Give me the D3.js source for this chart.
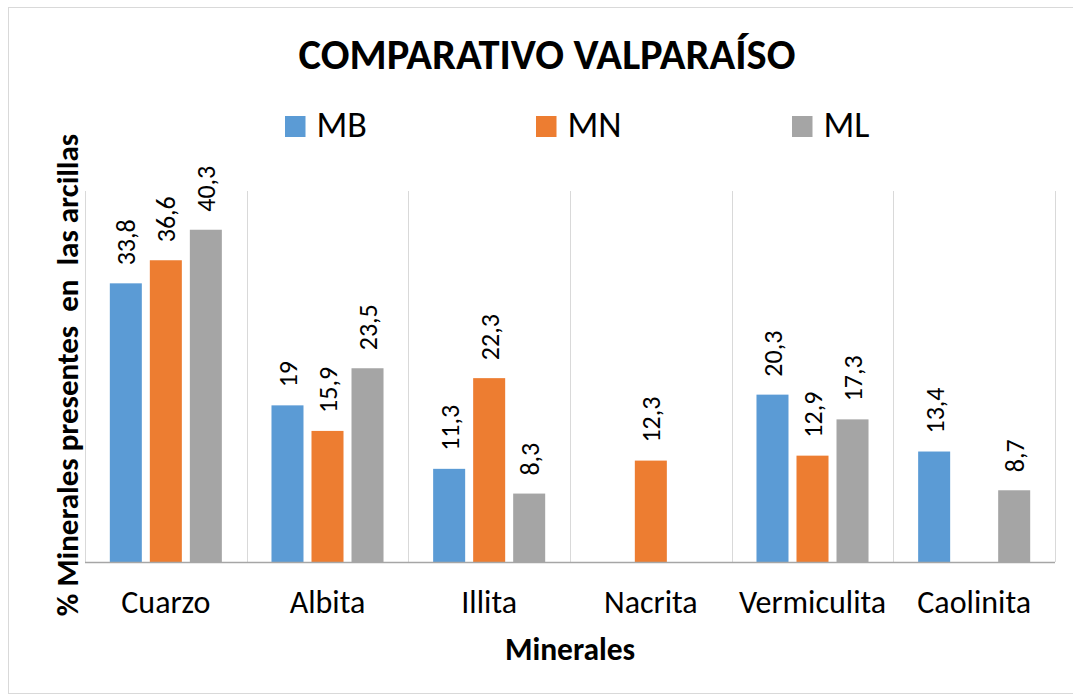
<!DOCTYPE html>
<html>
<head>
<meta charset="utf-8">
<script src="https://cdn.jsdelivr.net/npm/d3@7"></script>
<style>
  html, body { margin: 0; padding: 0; background: #fff; }
  svg { display: block; }
  text { font-family: Carlito, Calibri, Lato, sans-serif; fill: #000; }
</style>
</head>
<body>
<svg id="chart" width="1073" height="695"></svg>
<script>
const categories = ["Cuarzo", "Albita", "Illita", "Nacrita", "Vermiculita", "Caolinita"];
const seriesNames = ["MB", "MN", "ML"];
const MB = [33.8, 19, 11.3, null, 20.3, 13.4];
const MN = [36.6, 15.9, 22.3, 12.3, 12.9, null];
const ML = [40.3, 23.5, 8.3, null, 17.3, 8.7];
const colors = ["#5B9BD5", "#ED7D31", "#A5A5A5"];
const titleText = "COMPARATIVO VALPARAÍSO";
const xTitle = "Minerales";
const yTitle = "% Minerales presentes  en  las arcillas";
const yMax = 45;

const seriesValues = [MB, MN, ML];
const svg = d3.select("#chart");

const plot = { left: 85, right: 1055, top: 191, bottom: 562 };

// outer border
svg.append("rect")
  .attr("x", 8.5).attr("y", 7.5).attr("width", 1100).attr("height", 686)
  .attr("fill", "#fff").attr("stroke", "#D9D9D9").attr("stroke-width", 1);

const x = d3.scaleBand().domain(categories).range([plot.left, plot.right]).padding(0);
const inner = x.bandwidth();
const xs = d3.scaleBand().domain(seriesNames)
  .range([inner * 0.1535, inner * (1 - 0.1535)])
  .paddingInner(0.2).paddingOuter(0);
const y = d3.scaleLinear().domain([0, yMax]).range([plot.bottom, plot.top]);

// vertical category gridlines
const bounds = categories.map(c => x(c)).concat([plot.right]);
svg.append("g").selectAll("line").data(bounds).join("line")
  .attr("x1", d => Math.round(d) + 0.5).attr("x2", d => Math.round(d) + 0.5)
  .attr("y1", plot.top).attr("y2", plot.bottom)
  .attr("stroke", "#D9D9D9").attr("stroke-width", 1);

// bars
const barData = [];
categories.forEach((c, i) => {
  seriesNames.forEach((s, j) => {
    const v = seriesValues[j][i];
    if (v !== null && v !== undefined) barData.push({ c, s, v, j });
  });
});

svg.append("g").selectAll("rect").data(barData).join("rect")
  .attr("x", d => x(d.c) + xs(d.s))
  .attr("y", d => y(d.v))
  .attr("width", xs.bandwidth())
  .attr("height", d => y(0) - y(d.v))
  .attr("fill", d => colors[d.j]);

// data labels
svg.append("g").selectAll("text").data(barData).join("text")
  .attr("transform", d => `translate(${x(d.c) + xs(d.s) + xs.bandwidth() / 2},${y(d.v) - 18}) rotate(-90)`)
  .attr("text-anchor", "start")
  .attr("dy", "0.36em")
  .style("font-size", "26px")
  .text(d => String(d.v).replace(".", ","));

// x axis baseline
svg.append("line")
  .attr("x1", plot.left).attr("x2", plot.right)
  .attr("y1", plot.bottom + 0.5).attr("y2", plot.bottom + 0.5)
  .attr("stroke", "#A6A6A6").attr("stroke-width", 1.3);

// x axis labels via d3 axis
const xAxis = svg.append("g")
  .attr("transform", `translate(0,${plot.bottom})`)
  .call(d3.axisBottom(x).tickSize(0).tickPadding(51));
xAxis.select(".domain").remove();
xAxis.selectAll("text")
  .style("font-size", "32px")
  .style("font-family", "Carlito, Calibri, Lato, sans-serif")
  .attr("fill", "#000")
  .attr("dy", "0");

// title
svg.append("text")
  .attr("x", 547).attr("y", 69)
  .attr("text-anchor", "middle")
  .style("font-size", "42.5px").style("font-weight", "bold")
  .text(titleText);

// axis titles
svg.append("text")
  .attr("x", (plot.left + plot.right) / 2).attr("y", 660)
  .attr("text-anchor", "middle")
  .style("font-size", "31.5px").style("font-weight", "bold")
  .text(xTitle);

svg.append("text")
  .attr("transform", `translate(78,375) rotate(-90)`)
  .attr("text-anchor", "middle")
  .style("font-size", "31px").style("font-weight", "bold")
  .style("white-space", "pre")
  .attr("xml:space", "preserve")
  .text(yTitle);

// legend
const legendX = [285, 536, 792];
const lg = svg.append("g").selectAll("g").data(seriesNames).join("g")
  .attr("transform", (d, i) => `translate(${legendX[i]},116)`);
lg.append("rect").attr("width", 20.5).attr("height", 21).attr("fill", (d, i) => colors[i]);
lg.append("text").attr("x", 31.5).attr("y", 20.7)
  .style("font-size", "36px")
  .text(d => d);
</script>
</body>
</html>
